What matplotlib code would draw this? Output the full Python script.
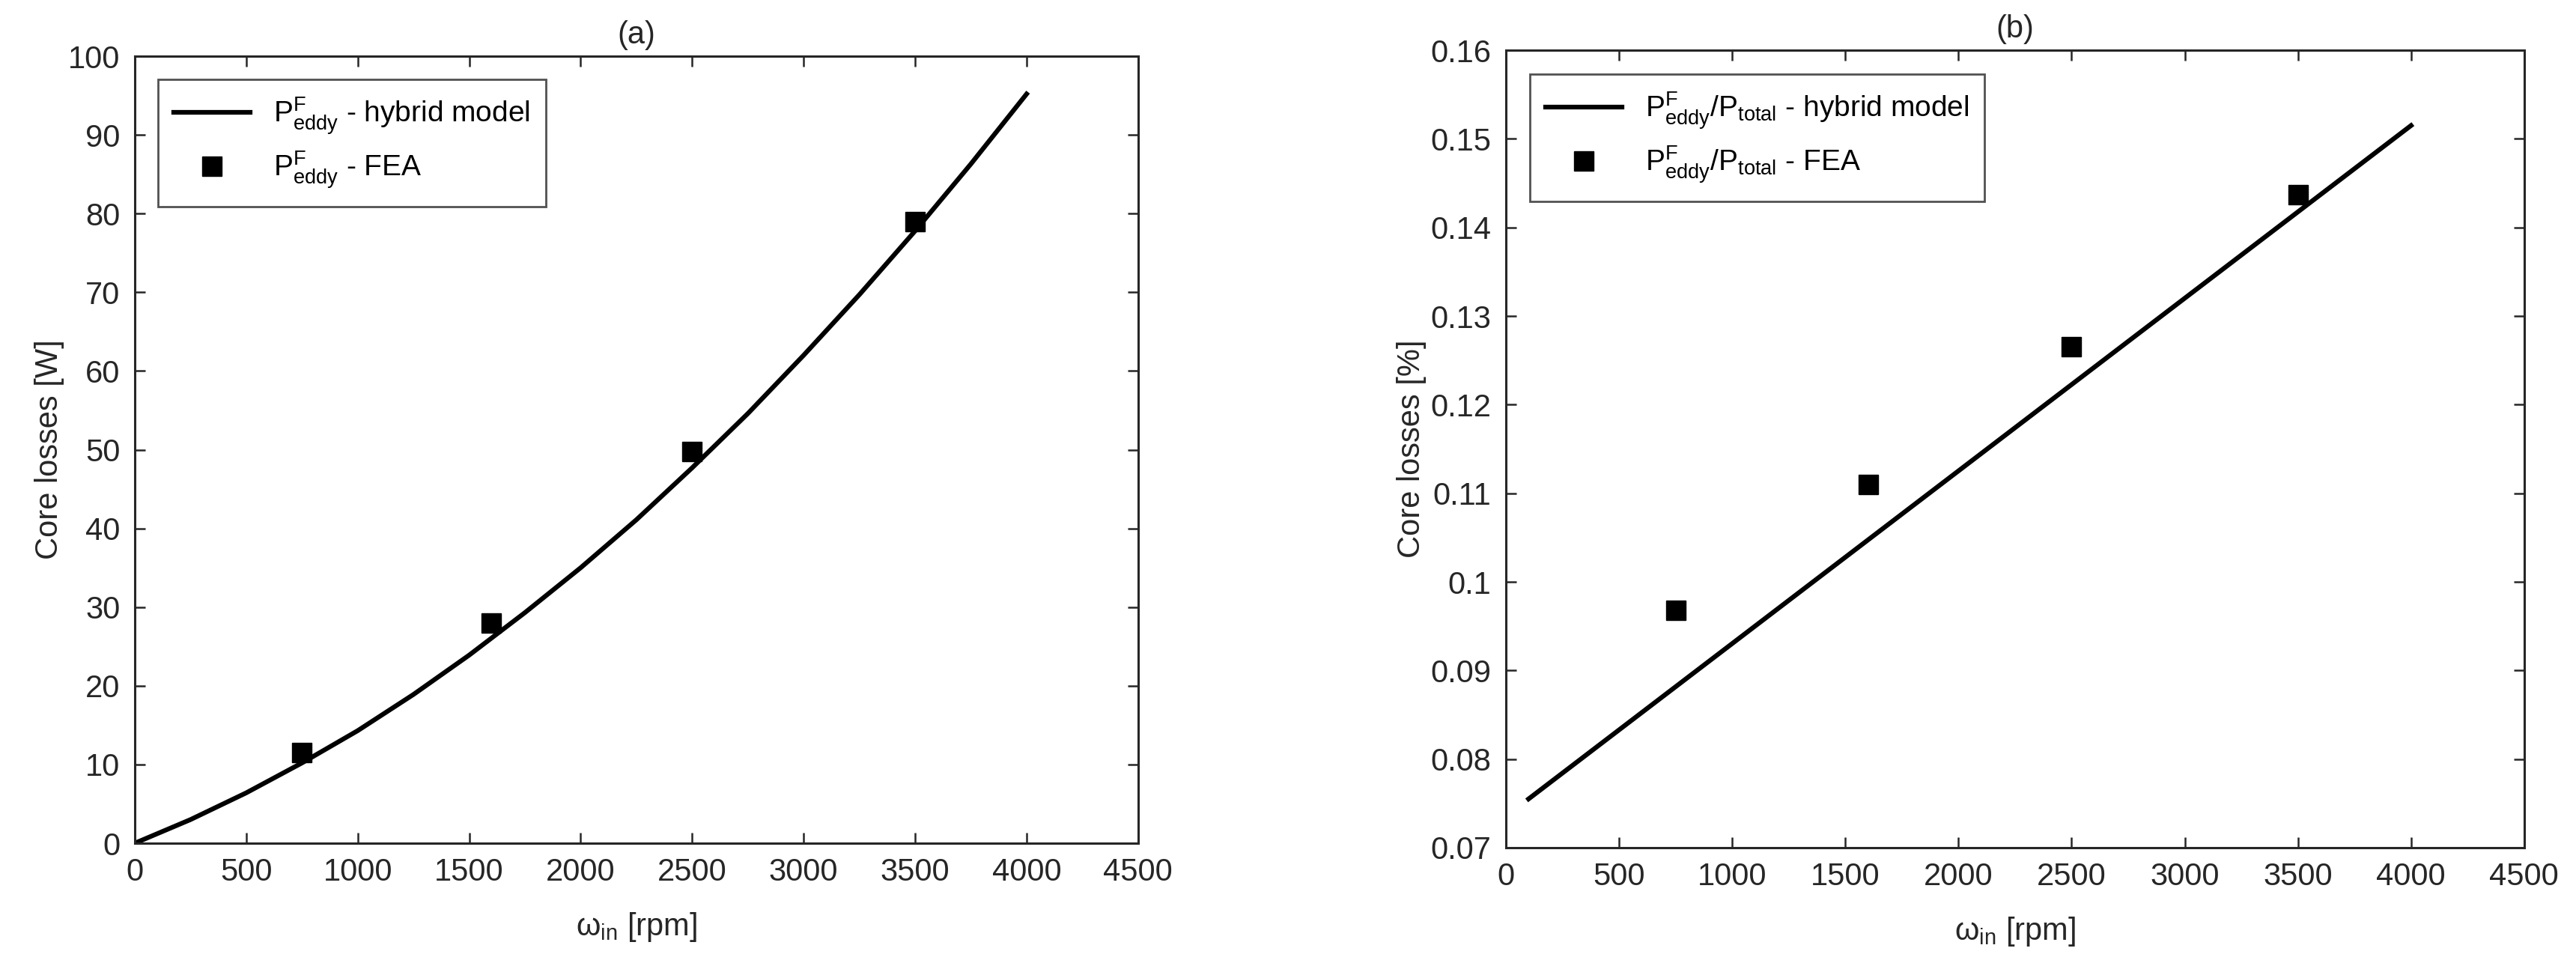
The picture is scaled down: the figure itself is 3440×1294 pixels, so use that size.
import numpy as np
import matplotlib
matplotlib.use('Agg')
import matplotlib.pyplot as plt

plt.rcParams['font.family'] = ['Liberation Sans', 'DejaVu Sans']
plt.rcParams['mathtext.fontset'] = 'custom'
plt.rcParams['mathtext.rm'] = 'Liberation Sans'
plt.rcParams['mathtext.it'] = 'Liberation Sans'

# (a) eddy losses, hybrid model curve
speed_model_a = [0, 250, 500, 750, 1000, 1250, 1500, 1750, 2000, 2250, 2500,
                 2750, 3000, 3250, 3500, 3750, 4000]
eddy_model_a = [0, 3.0, 6.4, 10.2, 14.3, 18.9, 23.9, 29.3, 35.0, 41.1, 47.7,
                54.6, 62.0, 69.7, 77.8, 86.3, 95.2]
# FEA points
speed_fea = [750, 1600, 2500, 3500]
eddy_fea_a = [11.5, 28.0, 49.8, 79.0]

# (b) eddy / total ratio
speed_model_b = [100, 4000]
ratio_model_b = [0.0755, 0.1515]
ratio_fea_b = [0.0968, 0.1110, 0.1265, 0.1437]

fig = plt.figure(figsize=(34.4, 12.94), dpi=100)
ax1 = fig.add_axes([0.0523, 0.1298, 0.3895, 0.8122])
ax2 = fig.add_axes([0.5846, 0.1252, 0.3953, 0.8230])

fs = 30
tc = '#262626'

def style(ax):
    ax.tick_params(direction='in', length=10, width=1.8, labelsize=fs,
                   top=True, right=True, pad=14, colors=tc)
    for s in ax.spines.values():
        s.set_linewidth(2.2)
        s.set_color(tc)

ax1.plot(speed_model_a, eddy_model_a, color='black', lw=4.5,
         label=r'$\mathregular{P^F_{eddy}}$ - hybrid model')
ax1.plot(speed_fea, eddy_fea_a, linestyle='none', marker='s', ms=19,
         color='black', label=r'$\mathregular{P^F_{eddy}}$ - FEA')
ax1.set_xlim(0, 4500)
ax1.set_ylim(0, 100)
ax1.set_xticks(np.arange(0, 4501, 500))
ax1.set_yticks(np.arange(0, 101, 10))
ax1.set_xlabel(r'$\mathregular{\omega_{in}}$ [rpm]', fontsize=fs, color=tc,
               labelpad=22)
ax1.set_ylabel('Core losses [W]', fontsize=fs, color=tc)
ax1.set_title('(a)', fontsize=fs, color=tc, pad=12)
style(ax1)
leg1 = ax1.legend(loc='upper left', bbox_to_anchor=(211/3440, 1-106/1294),
                  bbox_transform=fig.transFigure, fontsize=28, frameon=True,
                  fancybox=False, edgecolor=tc, handlelength=2.6,
                  borderpad=0.55, labelspacing=0.45, borderaxespad=0)
leg1.get_frame().set_linewidth(2)

ax2.plot(speed_model_b, ratio_model_b, color='black', lw=4.5,
         label=r'$\mathregular{P^F_{eddy}/P_{total}}$ - hybrid model')
ax2.plot(speed_fea, ratio_fea_b, linestyle='none', marker='s', ms=19,
         color='black', label=r'$\mathregular{P^F_{eddy}/P_{total}}$ - FEA')
ax2.set_xlim(0, 4500)
ax2.set_ylim(0.07, 0.16)
ax2.set_xticks(np.arange(0, 4501, 500))
ax2.set_yticks(np.arange(0.07, 0.1601, 0.01))
ax2.set_yticklabels(['0.07', '0.08', '0.09', '0.1', '0.11', '0.12', '0.13',
                     '0.14', '0.15', '0.16'])
ax2.set_xlabel(r'$\mathregular{\omega_{in}}$ [rpm]', fontsize=fs, color=tc,
               labelpad=22)
ax2.set_ylabel('Core losses [%]', fontsize=fs, color=tc)
ax2.set_title('(b)', fontsize=fs, color=tc, pad=12)
style(ax2)
leg2 = ax2.legend(loc='upper left', bbox_to_anchor=(2043/3440, 1-99/1294),
                  bbox_transform=fig.transFigure, fontsize=28, frameon=True,
                  fancybox=False, edgecolor=tc, handlelength=2.6,
                  borderpad=0.55, labelspacing=0.45, borderaxespad=0)
leg2.get_frame().set_linewidth(2)

fig.savefig('out.png', dpi=100)
